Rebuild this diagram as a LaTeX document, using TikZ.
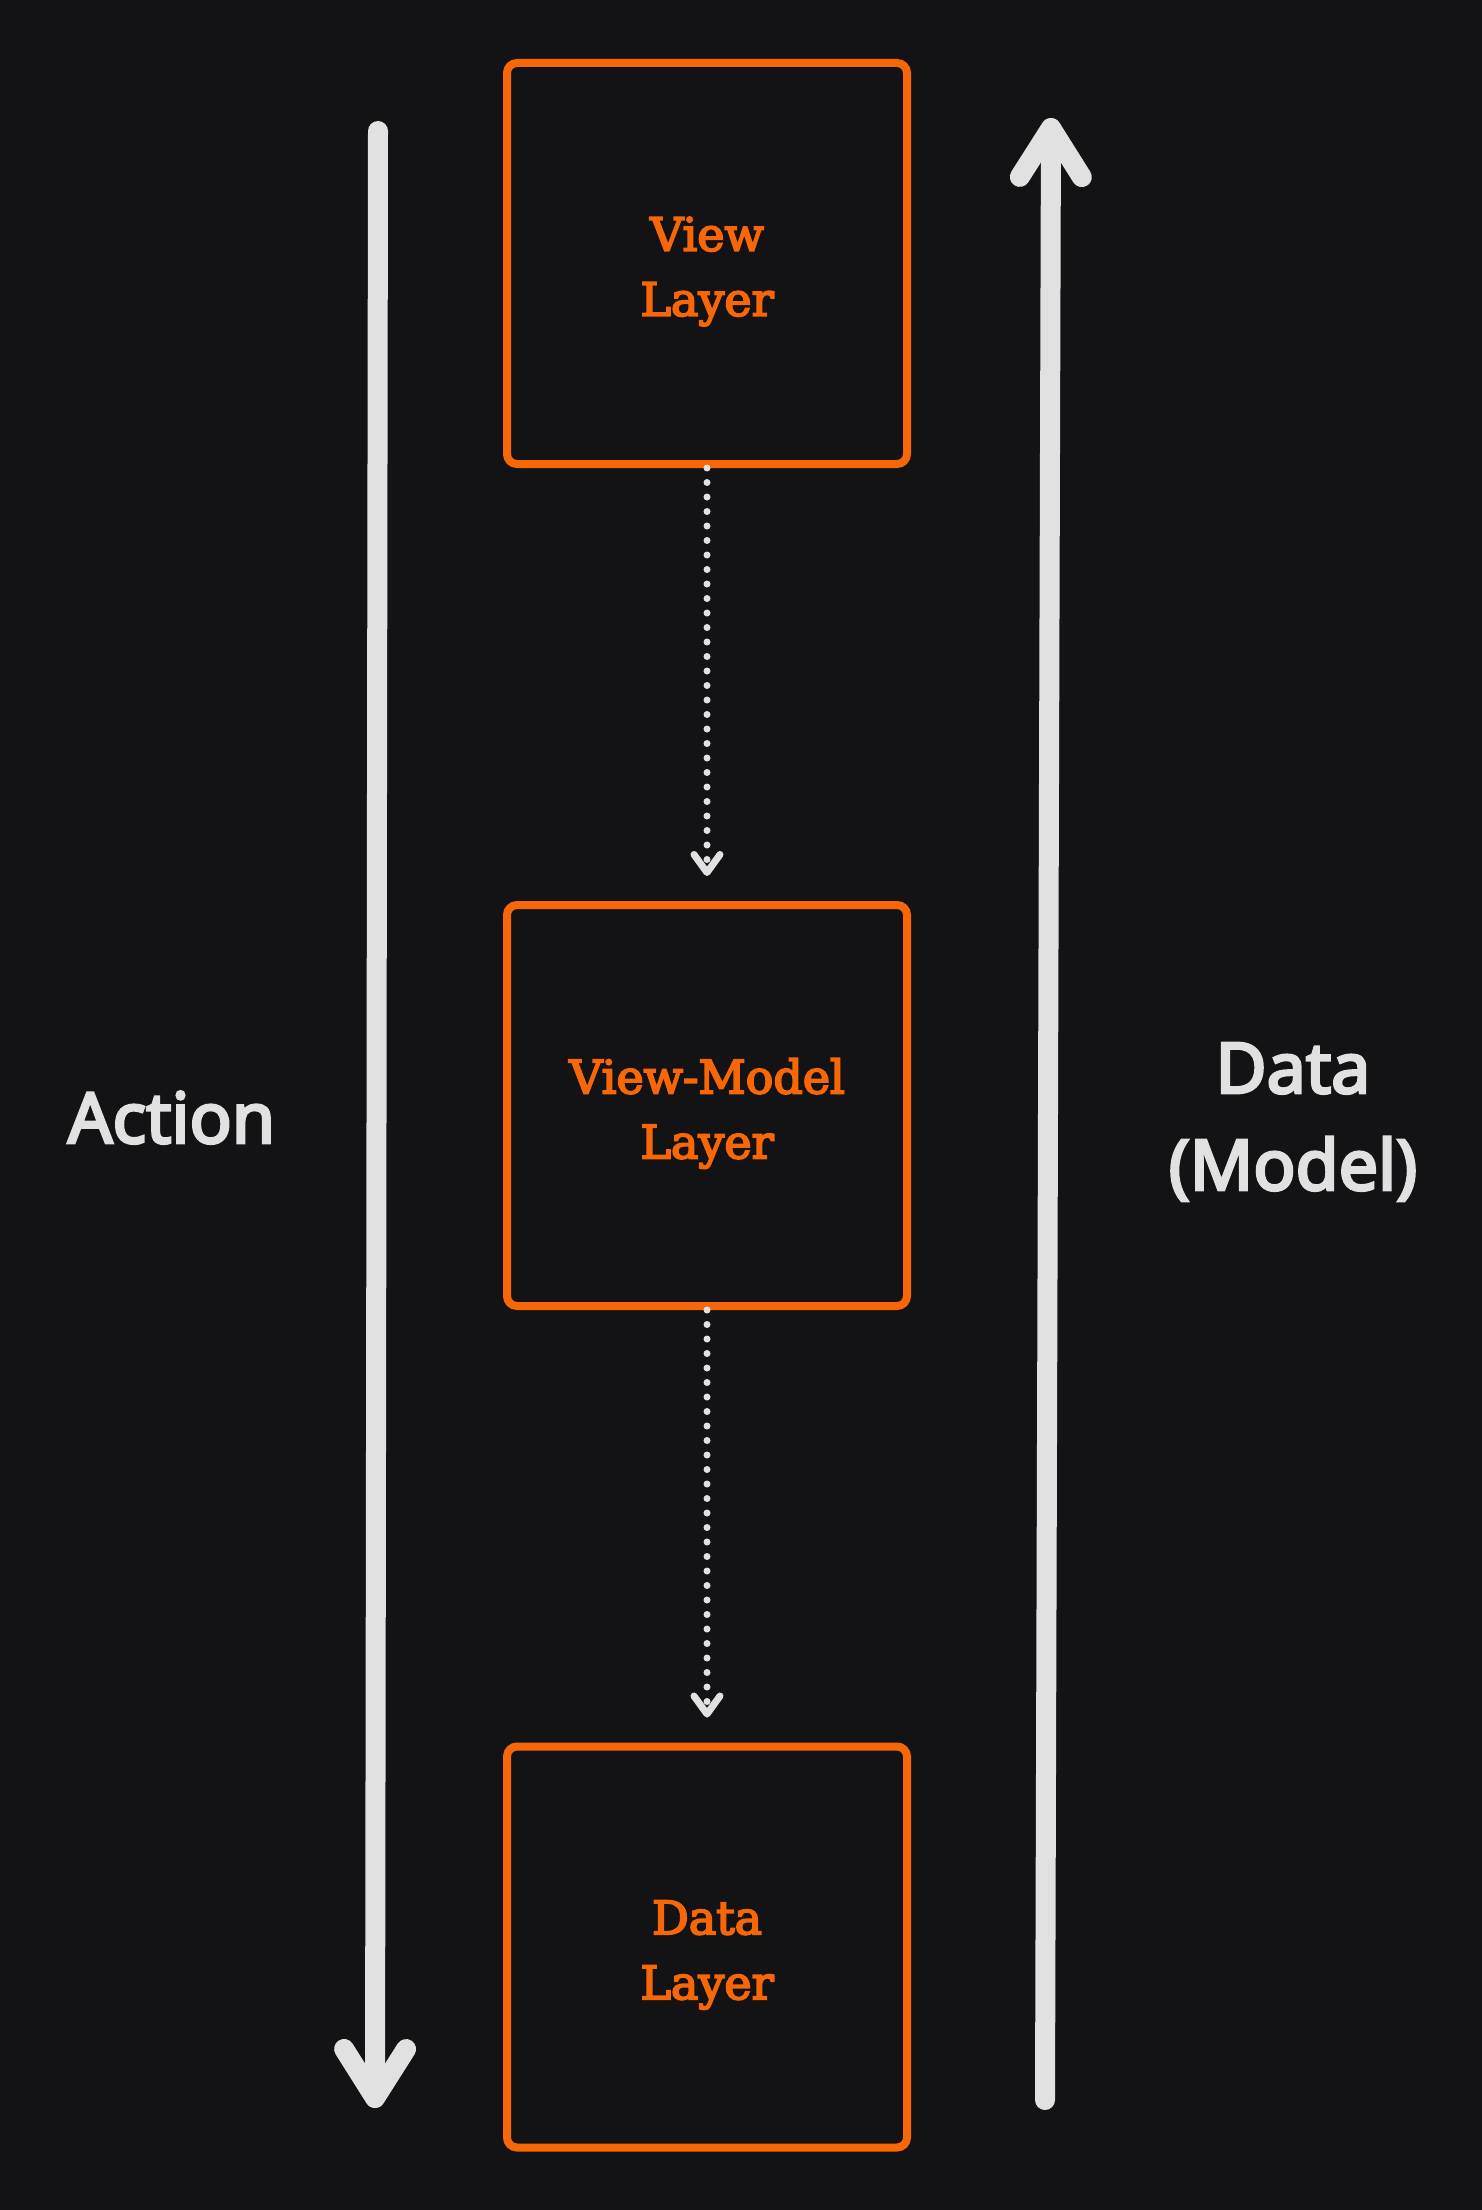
\documentclass[tikz,border=0pt]{standalone}
\usepackage{fontspec}
\newfontfamily\boxfont[FakeBold=4]{DejaVu Serif}
\newfontfamily\labfont[FakeBold=4]{Noto Sans}
\usetikzlibrary{arrows.meta}
\definecolor{bg}{HTML}{131315}
\definecolor{org}{HTML}{F76707}
\definecolor{wht}{HTML}{E1E1E1}
\begin{document}
\begin{tikzpicture}[x=0.5pt,y=-0.5pt,
  layerbox/.style={draw=org, line width=4pt, rounded corners=5pt, minimum width=200pt, minimum height=200.5pt, inner sep=0pt},
  layertext/.style={text=org, font=\boxfont\fontsize{23pt}{32.5pt}\selectfont, align=center, inner sep=0pt},
  bigtext/.style={text=wht, font=\labfont\fontsize{35pt}{48.5pt}\selectfont, align=center, inner sep=0pt},
  flow/.style={draw=wht, line width=10pt, line cap=round, -{Straight Barb[length=24.5pt,width=31pt,round]}},
  dotlink/.style={draw=wht, line width=3.5pt, line cap=round, dash pattern=on 0pt off 7.25pt, shorten >=12.5pt, -{Straight Barb[length=9pt,width=13pt,round]}}]
\fill[bg] (0,0) rectangle (1482,2210);
\useasboundingbox (0,0) rectangle (1482,2210);
% boxes
\node[layerbox] (view) at (707,263.5) {};
\node[layerbox] (vm) at (707,1105.5) {};
\node[layerbox] (data) at (707,1947) {};
\node[layertext, yshift=-4pt] (viewt) at (view.center) {View\\Layer};
\node[layertext, yshift=-4pt] (vmt) at (vm.center) {View-Model\\Layer};
\node[layertext, yshift=-4pt] (datat) at (data.center) {Data\\Layer};
% dotted links
\draw[dotlink] (view.south) -- (vm.north);
\draw[dotlink] (vm.south) -- (data.north);
% big flows
\coordinate (acttop) at (378,131);
\coordinate (actbot) at (375,2108);
\coordinate (datbot) at (1045,2100);
\coordinate (dattop) at (1051,118);
\draw[flow] (acttop) -- (actbot);
\draw[flow] (datbot) -- (dattop);
% labels
\node[bigtext, anchor=base] (action) at (171.5,1143) {Action};
\node[bigtext, anchor=base] (datamodel) at (1293,1190) {Data\\(Model)};
\end{tikzpicture}
\end{document}
